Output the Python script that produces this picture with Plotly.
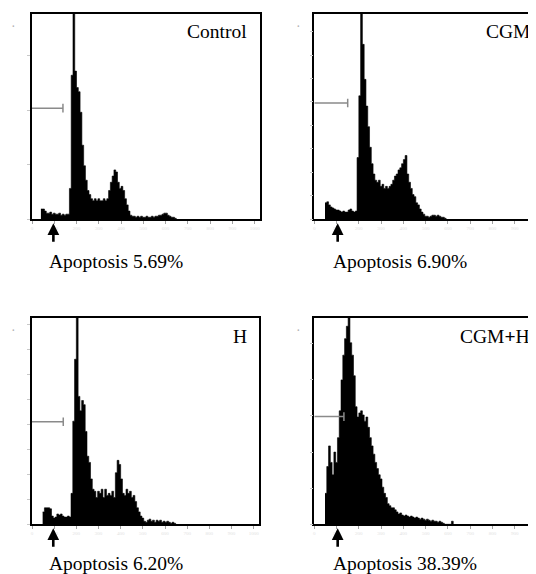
import plotly.graph_objects as go

# ---------------- data ----------------
BIN = 8  # channel width of one histogram bin

panel_names = ["Control", "CGM", "H", "CGM<b>+</b>H"]
apoptosis_labels = ["Apoptosis 5.69%", "Apoptosis 6.90%", "Apoptosis 6.20%", "Apoptosis 38.39%"]

control_start = 40
control_counts = [5, 5, 4, 3, 3, 3.5, 2.5, 3, 2.5, 2.5, 3, 2, 2.5, 2, 2.5, 2.5,
                  15, 70, 100, 72, 64, 62, 52, 36, 26, 19, 14, 12, 10, 9, 10, 9,
                  10, 9, 9, 10, 9, 10, 14, 18, 21, 24, 23, 18, 15, 16, 14, 10,
                  7, 4, 2, 1.5, 1.5, 1, 1.5, 1, 1.5, 1, 1, 1.5, 1, 1, 1.5, 1,
                  1.5, 1.5, 2, 2, 2.5, 3, 3, 2, 1.5, 1, 1, 0.5]

cgm_start = 48
cgm_counts = [8, 8.5, 7, 6, 5.5, 5, 4.5, 4.5, 4, 3.5, 4, 3.5, 3.5, 4.5, 5, 4,
              3.5, 4, 30, 60, 100, 85, 68, 55, 45, 35, 27, 22, 19, 18, 19, 16,
              17, 15, 16, 15, 16, 17, 19, 21, 22, 24, 25, 27, 29, 31, 22, 18,
              15, 12, 11, 8, 7, 5, 3.5, 2.5, 1.5, 1.5, 1, 1.5, 2, 2, 1.5, 2,
              1.5, 1, 1, 0.5]

h_start = 48
h_counts = [6, 8, 8, 8, 7.5, 4, 3, 3.5, 5, 4.5, 5, 4, 3.5, 3.5, 4, 3.5,
            15, 50, 80, 100, 62, 55, 60, 58, 45, 33, 30, 22, 17, 16, 13, 16,
            15, 17, 13, 17, 14, 15, 14, 16, 13, 25, 31, 29, 22, 15, 14, 17,
            15, 16, 13, 14, 11, 8, 6, 4, 3, 1.5, 1, 2, 2.5, 1.5, 2, 1,
            2, 1.5, 2, 1, 1.5, 1, 1.5, 1, 0.5, 1, 0.5]

cgmh_start = 48
cgmh_counts = [15, 28, 38, 30, 24, 35, 30, 42, 55, 70, 82, 90, 96, 100, 88, 82,
               72, 57, 52, 54, 55, 53, 50, 52, 47, 42, 38, 34, 30, 27, 24, 22,
               18, 15, 13, 10, 9, 8, 8, 7, 6, 5, 5.5, 4.5, 4, 4.5, 4, 3.5,
               4, 3.5, 3, 3.5, 3, 2.5, 3, 2.5, 2, 2.5, 2, 1.5, 2, 1.5,
               1.5, 1, 1.5, 1, 0.5, 0, 0, 0, 0, 1.5]

starts = [control_start, cgm_start, h_start, cgmh_start]
counts = [control_counts, cgm_counts, h_counts, cgmh_counts]

# M1 gate marker (end channel, height in % of panel) and arrow channel
gate_end = [139, 150, 141, 133]
gate_level = [54, 56.5, 49.7, 52.2]
arrow_channel = [96, 105, 96, 105]

x_tick_vals = [0, 100, 200, 300, 400, 500, 600, 700, 800, 900, 1000]
x_tick_text = ["0", "100", "200", "300", "400", "500", "600", "700", "800", "900", "1000"]
y_ticks = [
    [0, 26.5, 53, 79.5],
    [0, 11.4, 22.8, 34.2, 45.6, 57, 68.4, 79.8, 91.2],
    [0, 12.1, 24.2, 36.3, 48.4, 60.5, 72.6, 84.7, 96.8],
    [0, 17.5, 35, 52.5, 70, 87.5],
]

# ---------------- layout geometry ----------------
PAGE_W, PAGE_H = 536, 574
OFF = 8                      # default page margin around the plot div
W, H = PAGE_W - OFF, PAGE_H - OFF
FONT = "Liberation Serif, Times New Roman, serif"

def px_x(p):
    return (p - OFF) / W

def px_y(p):
    return 1 - (p - OFF) / H

col_dom = [[px_x(32), px_x(260)], [px_x(314.3), 1.0],
           [px_x(32), px_x(259)], [px_x(314.3), 1.0]]
row_dom = [[px_y(219.3), px_y(13.5)], [px_y(219.3), px_y(13.5)],
           [px_y(524.3), px_y(318)], [px_y(524.3), px_y(318)]]
x_max = [1024, (536 - 314.3) * 1024 / 228, 1024, (536 - 314.3) * 1024 / 228]
left_col = [True, False, True, False]

fig = go.Figure()
shapes = []
annotations = []

for i in range(4):
    n = "" if i == 0 else str(i + 1)
    xa, ya = "x" + n, "y" + n
    xs = [starts[i] + k * BIN for k in range(len(counts[i]) + 1)]
    ys = list(counts[i]) + [0]
    fig.add_trace(go.Scatter(
        x=xs, y=ys, mode="lines",
        line=dict(shape="hv", color="black", width=0.6),
        fill="tozeroy", fillcolor="black",
        xaxis=xa, yaxis=ya, hoverinfo="skip", showlegend=False))

    fig.update_layout(**{
        "xaxis" + n: dict(domain=col_dom[i], range=[0, x_max[i]], anchor=ya,
                          showline=True, linecolor="black", linewidth=1.5, mirror=True,
                          ticks="outside", ticklen=3, tickwidth=1, tickcolor="#a0a0a0",
                          tickvals=x_tick_vals, ticktext=x_tick_text,
                          tickfont=dict(size=5, color="#e2e2e2", family=FONT),
                          showgrid=False, zeroline=False, fixedrange=True),
        "yaxis" + n: dict(domain=row_dom[i], range=[0, 100], anchor=xa,
                          showline=True, linecolor="black", linewidth=1.5,
                          mirror=left_col[i],
                          ticks="outside", ticklen=3, tickwidth=1, tickcolor="#c8c8c8",
                          tickvals=y_ticks[i], showticklabels=False,
                          showgrid=False, zeroline=False, fixedrange=True),
    })

    # gate marker
    gcol = "#8a8a8a"
    shapes.append(dict(type="line", xref=xa, yref=ya, x0=0, x1=gate_end[i],
                       y0=gate_level[i], y1=gate_level[i], line=dict(color=gcol, width=1.5)))
    shapes.append(dict(type="line", xref=xa, yref=ya, x0=gate_end[i], x1=gate_end[i],
                       y0=gate_level[i] - 2.1, y1=gate_level[i] + 2.1,
                       line=dict(color=gcol, width=1.5)))

    top = 13.5 if i < 2 else 318
    bottom = 219.3 if i < 2 else 524.3

    # arrow pointing up at the apoptotic region
    annotations.append(dict(x=arrow_channel[i], xref=xa, y=px_y(bottom + 4), yref="paper",
                            ax=0, ay=20, axref="pixel", ayref="pixel", text="",
                            showarrow=True, arrowhead=2, arrowsize=0.9, arrowwidth=2.6,
                            arrowcolor="black", standoff=0, startstandoff=0))
    # apoptosis text
    text_left = 47 if left_col[i] else 331
    text_dy = 41.7 if i < 2 else 39.5
    annotations.append(dict(x=px_x(text_left), y=px_y(bottom + text_dy), xref="paper", yref="paper",
                            xanchor="left", yanchor="middle", showarrow=False,
                            text=apoptosis_labels[i],
                            font=dict(family=FONT, size=19.5, color="black")))
    # panel name
    name_right = 249 if left_col[i] else 532
    annotations.append(dict(x=px_x(name_right), y=px_y(top + 18.5), xref="paper", yref="paper",
                            xanchor="right", yanchor="middle", showarrow=False,
                            text=panel_names[i],
                            font=dict(family=FONT, size=19.5, color="black")))
    # faint scale mark at the top-left of each panel
    mark_x = 13.5 if left_col[i] else 298
    annotations.append(dict(x=px_x(mark_x), y=px_y(top + 13), xref="paper", yref="paper",
                            xanchor="center", yanchor="middle", showarrow=False,
                            text="•", font=dict(size=7, color="#b5b5b5")))

fig.update_layout(width=W, height=H, margin=dict(l=0, r=0, t=0, b=0),
                  paper_bgcolor="white", plot_bgcolor="white",
                  shapes=shapes, annotations=annotations, showlegend=False)

fig.write_html("out.html")
